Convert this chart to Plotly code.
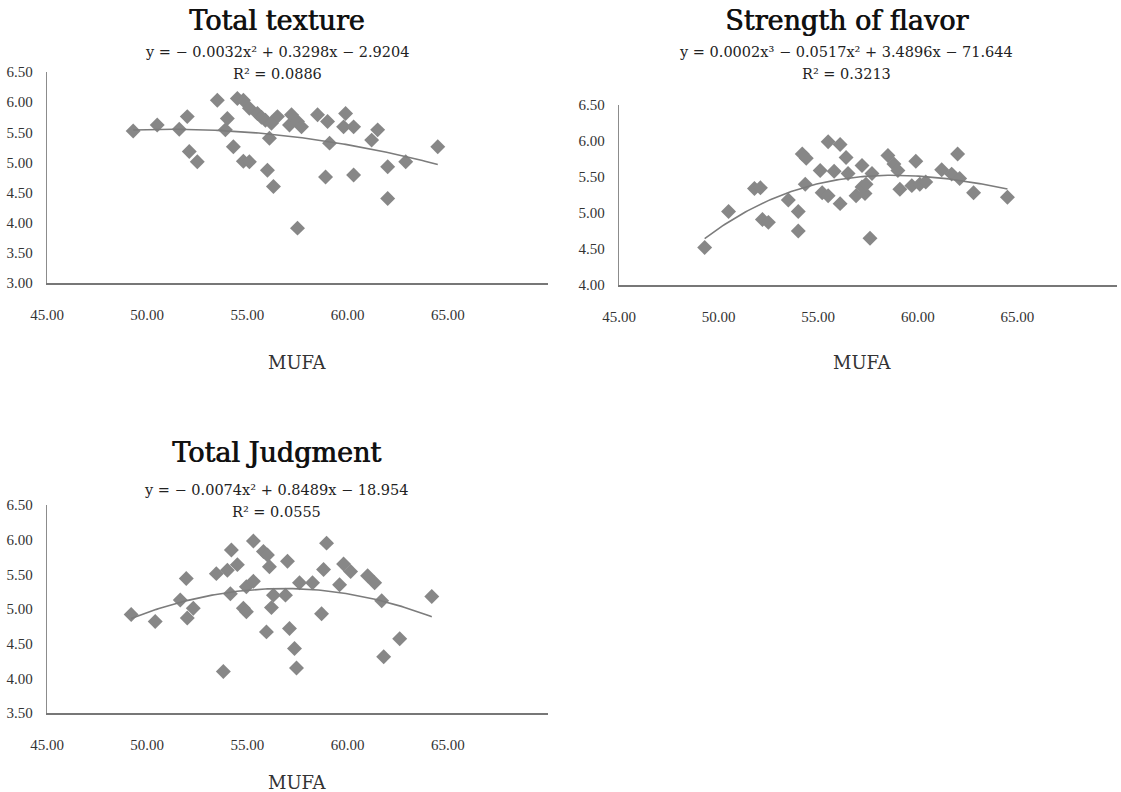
import numpy as np
import plotly.graph_objects as go

W, H = 1121, 792

# ---- data ----
tex_x = [49.3, 50.5, 51.6, 52.0, 52.1, 52.5, 53.5, 54.0, 53.9, 54.3, 54.5, 54.8, 54.8, 55.1,
         55.1, 55.5, 55.9, 56.0, 56.3, 56.1, 56.5, 57.2, 57.1, 57.5, 57.7, 57.5, 58.5, 59.0,
         59.1, 58.9, 59.9, 59.8, 60.3, 60.3, 61.5, 61.2, 62.0, 62.0, 62.9, 64.5, 55.7, 56.2]
tex_y = [5.52, 5.62, 5.55, 5.76, 5.18, 5.01, 6.03, 5.73, 5.54, 5.26, 6.06, 6.03, 5.02, 5.01,
         5.90, 5.81, 5.70, 4.87, 4.60, 5.40, 5.76, 5.79, 5.62, 5.68, 5.59, 3.91, 5.79, 5.68,
         5.32, 4.76, 5.81, 5.59, 5.59, 4.79, 5.54, 5.37, 4.93, 4.40, 5.01, 5.26, 5.75, 5.65]

fla_x = [49.3, 50.5, 51.8, 52.1, 52.2, 52.5, 53.5, 54.0, 54.0, 54.2, 54.35, 54.4, 55.1, 55.2,
         55.5, 55.5, 55.8, 56.1, 56.1, 56.4, 56.5, 56.9, 57.2, 57.2, 57.35, 57.4, 57.6, 57.7,
         58.5, 58.8, 59.0, 59.1, 59.7, 59.9, 60.1, 60.4, 61.2, 61.7, 62.0, 62.1, 62.8, 64.5]
fla_y = [4.52, 5.02, 5.34, 5.35, 4.91, 4.87, 5.18, 5.02, 4.75, 5.82, 5.40, 5.76, 5.59, 5.28,
         5.24, 5.99, 5.58, 5.95, 5.13, 5.77, 5.55, 5.24, 5.66, 5.36, 5.27, 5.40, 4.65, 5.55,
         5.80, 5.68, 5.59, 5.33, 5.38, 5.72, 5.40, 5.43, 5.60, 5.54, 5.82, 5.48, 5.28, 5.22]

jud_x = [49.2, 50.4, 51.65, 51.95, 52.0, 52.3, 53.45, 53.8, 54.0, 54.2, 54.15, 54.5, 54.8, 54.95,
         54.95, 55.3, 55.3, 55.8, 56.0, 55.95, 56.1, 56.2, 56.3, 56.9, 57.0, 57.1, 57.35, 57.45,
         57.6, 58.25, 58.8, 58.95, 58.7, 59.6, 59.8, 60.15, 61.0, 61.35, 61.7, 61.8, 62.6, 64.2]
jud_y = [4.92, 4.82, 5.13, 5.44, 4.87, 5.01, 5.51, 4.10, 5.56, 5.85, 5.22, 5.64, 5.01, 4.96,
         5.32, 5.40, 5.98, 5.83, 5.78, 4.67, 5.61, 5.02, 5.20, 5.20, 5.69, 4.72, 4.43, 4.15,
         5.38, 5.38, 5.57, 5.95, 4.93, 5.35, 5.65, 5.54, 5.48, 5.38, 5.12, 4.31, 4.57, 5.18]

titles = ["Total texture", "Strength of flavor", "Total Judgment"]
equations = ["y = − 0.0032x² + 0.3298x − 2.9204",
             "y = 0.0002x³ − 0.0517x² + 3.4896x − 71.644",
             "y = − 0.0074x² + 0.8489x − 18.954"]
r2_texts = ["R² = 0.0886", "R² = 0.3213", "R² = 0.0555"]
fit_degree = [2, 3, 2]
x_label = "MUFA"
x_range = [45, 70]
x_ticks = [45, 50, 55, 60, 65]
y_ranges = [[3.0, 6.5], [4.0, 6.5], [3.5, 6.5]]

series = [(tex_x, tex_y), (fla_x, fla_y), (jud_x, jud_y)]

# ---- layout geometry (window pixels) ----
# (left, right, top, bottom) of each plot area
boxes = [(47, 548, 72, 283), (619, 1117, 105, 285), (47, 548, 505, 713)]
title_pos = [(277, 21), (846, 21), (276, 452)]
eq_pos = [(277, 52), (846, 52), (276, 490)]
r2_pos = [(277, 74), (846, 74), (276, 512)]
xlab_pos = [(297, 362), (862, 362), (297, 782)]

def fx(px):
    return px / W

def fy(py):
    return 1 - py / H

SERIF = "Liberation Serif, Times New Roman, serif"
TSERIF = "DejaVu Serif, serif"
MARK = "#878787"

fig = go.Figure()
for i, (xs, ys) in enumerate(series):
    ax = "" if i == 0 else str(i + 1)
    fig.add_trace(go.Scatter(x=xs, y=ys, mode="markers",
                             marker=dict(symbol="diamond", size=11.5, color=MARK,
                                         line=dict(width=0)),
                             xaxis="x" + ax, yaxis="y" + ax, showlegend=False,
                             hoverinfo="skip"))
    coef = np.polyfit(xs, ys, fit_degree[i])
    xx = np.linspace(min(xs), max(xs), 120)
    fig.add_trace(go.Scatter(x=xx, y=np.polyval(coef, xx), mode="lines",
                             line=dict(color="#7c7c7c", width=1.6),
                             xaxis="x" + ax, yaxis="y" + ax, showlegend=False,
                             hoverinfo="skip"))

layout = dict(width=W, height=H, autosize=False,
              margin=dict(l=0, r=0, t=0, b=0),
              paper_bgcolor="white", plot_bgcolor="white",
              showlegend=False)

for i, (l, r, t, b) in enumerate(boxes):
    ax = "" if i == 0 else str(i + 1)
    layout["xaxis" + ax] = dict(
        domain=[fx(l), fx(r)], range=x_range, tickvals=x_ticks, tickformat=".2f",
        showgrid=False, zeroline=False, showline=True, linecolor="#777777", linewidth=1.5,
        ticks="outside", ticklen=17, tickcolor="rgba(0,0,0,0)", automargin=False,
        tickfont=dict(family=SERIF, size=15, color="#333333"),
        anchor="y" + ax, fixedrange=True)
    layout["yaxis" + ax] = dict(
        domain=[fy(b), fy(t)], range=y_ranges[i], dtick=0.5, tickformat=".2f",
        showgrid=False, zeroline=False, showline=True, linecolor="#8c8c8c", linewidth=1.3,
        ticks="outside", ticklen=10, tickcolor="rgba(0,0,0,0)", automargin=False,
        tickfont=dict(family=SERIF, size=15, color="#333333"),
        anchor="x" + ax, fixedrange=True)

annotations = []
def ann(text, pos, size, family, color="#111111", shadow="none"):
    annotations.append(dict(text=text, x=fx(pos[0]), y=fy(pos[1]), xref="paper",
                            yref="paper", xanchor="center", yanchor="middle",
                            showarrow=False,
                            font=dict(family=family, size=size, color=color, shadow=shadow)))

for i in range(3):
    ann(titles[i], title_pos[i], 27, TSERIF, "#111111", "0.8px 0px 0px #111111")
    ann(equations[i], eq_pos[i], 14.5, TSERIF, "#222222")
    ann(r2_texts[i], r2_pos[i], 14.5, TSERIF, "#222222")
    ann(x_label, xlab_pos[i], 18, TSERIF, "#333333")

layout["annotations"] = annotations
fig.update_layout(**layout)
fig.write_html("out.html", config={"displayModeBar": False},
               post_script="document.body.style.margin='0';document.body.style.overflow='hidden';")
